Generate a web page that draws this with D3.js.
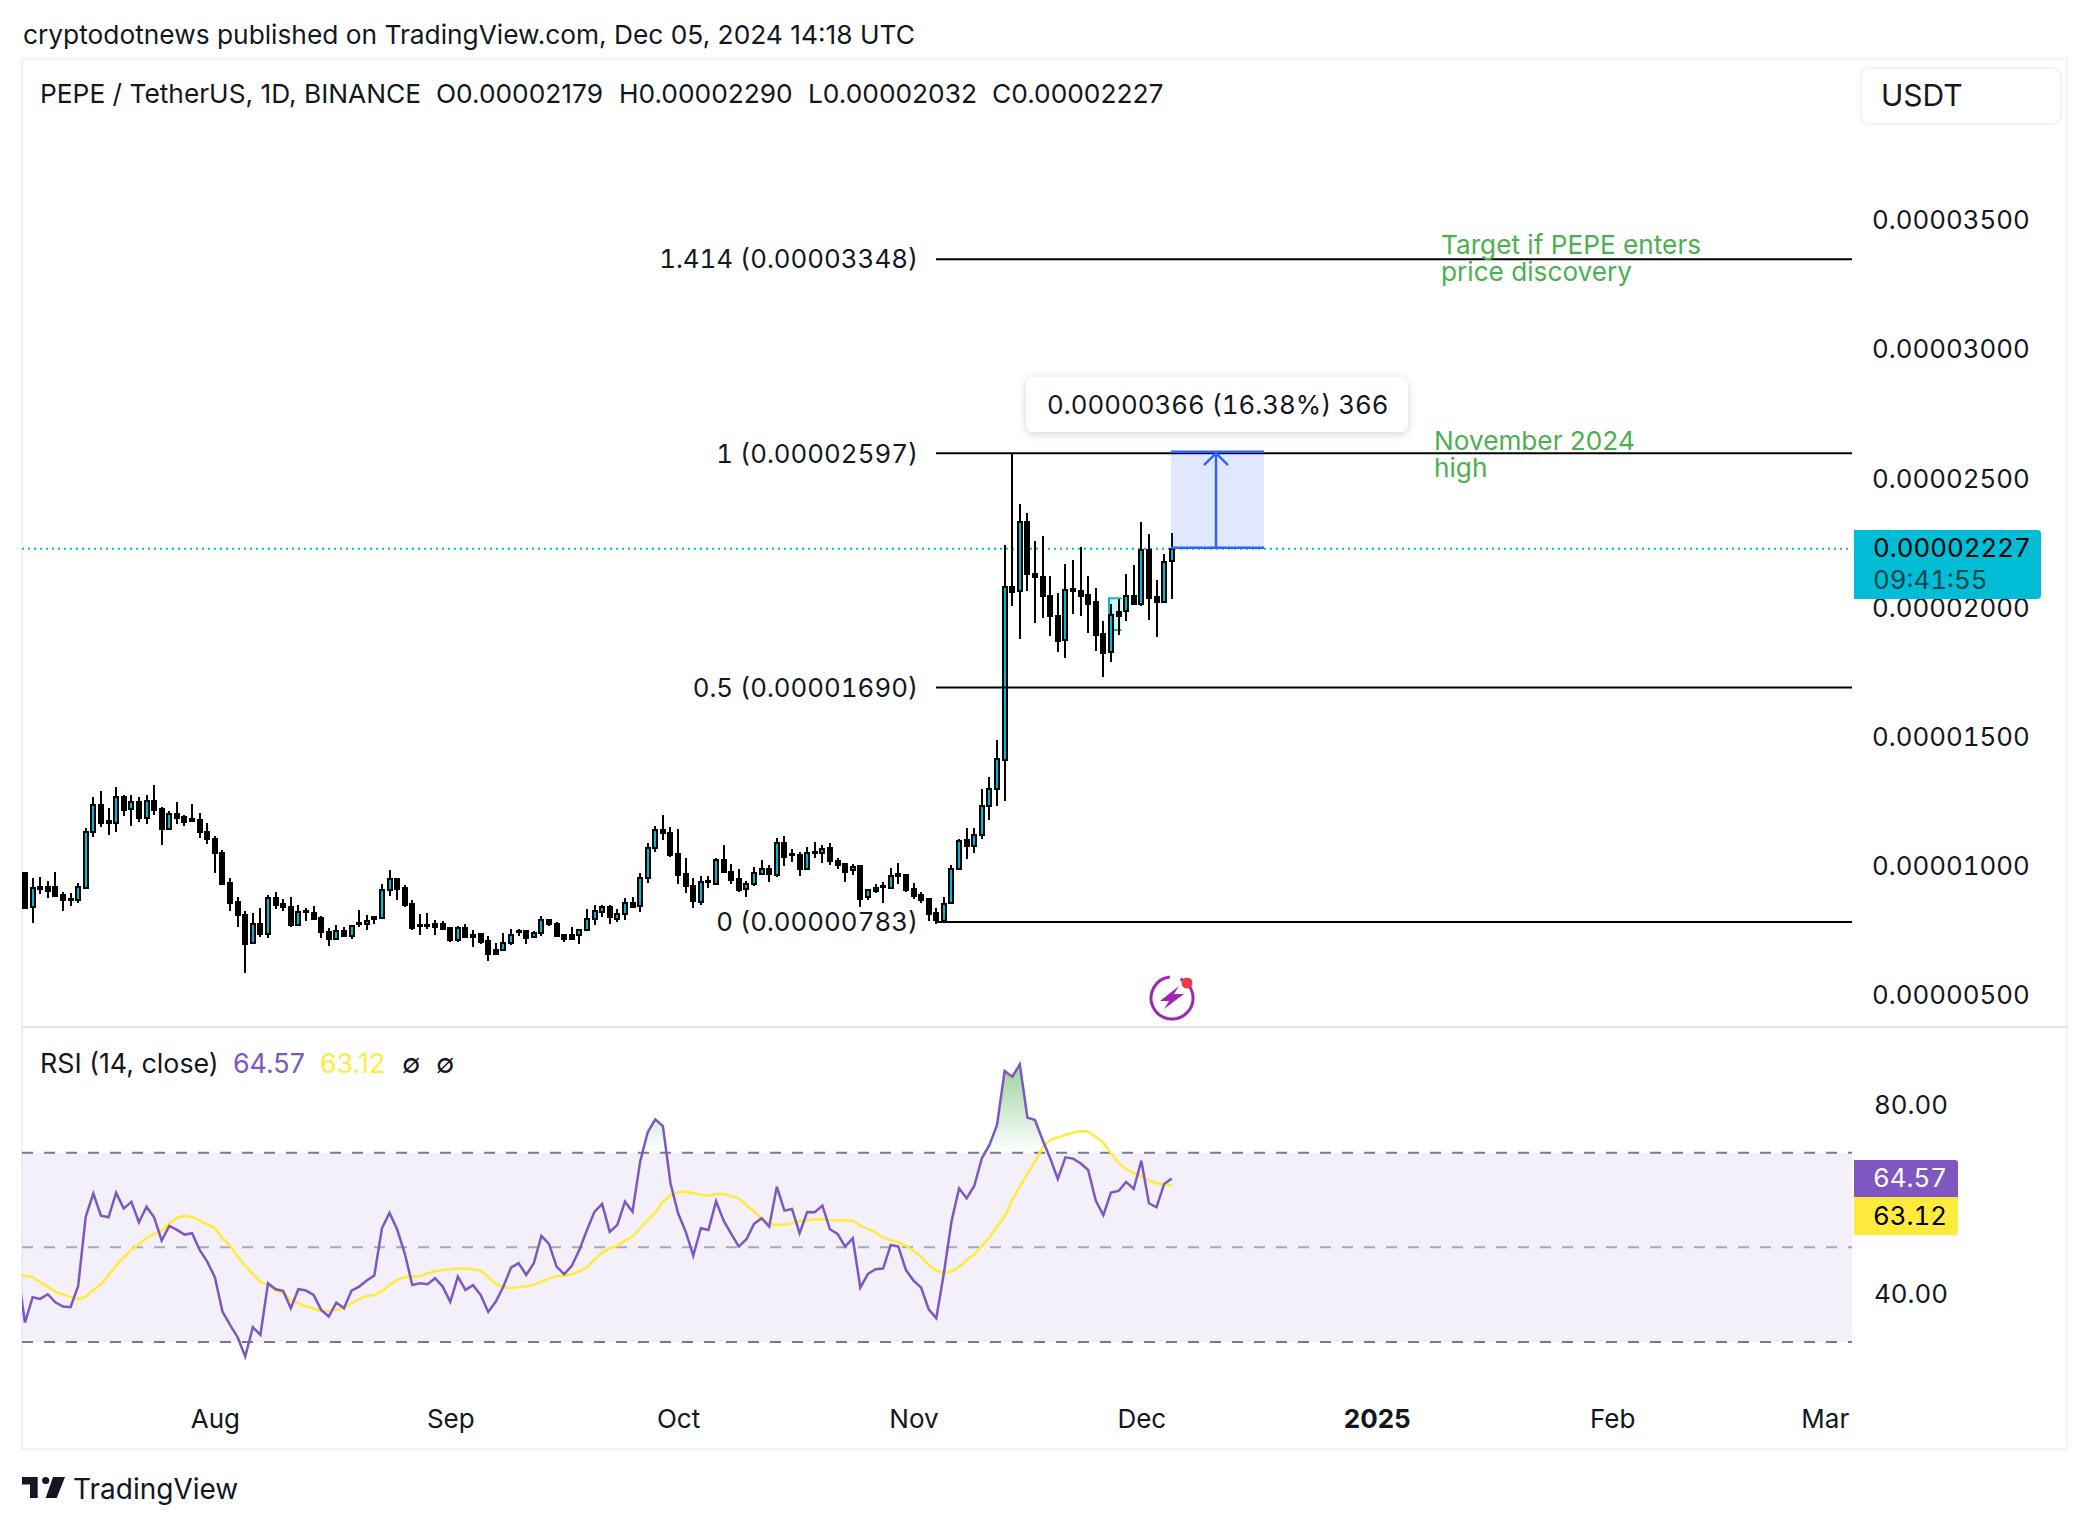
<!DOCTYPE html>
<html>
<head>
<meta charset="utf-8">
<style>
  html, body { margin: 0; padding: 0; background: #fff; }
  svg { display: block; font-family: Inter, 'Noto Sans', sans-serif; }
  text { fill: #131722; }
  .num, .num text { font-variant-numeric: tabular-nums; }
</style>
</head>
<body>
<svg width="2089" height="1527"></svg>
<script src="https://cdn.jsdelivr.net/npm/d3@7"></script>
<script>
(function (d3) {
  'use strict'

  // prices are in 1e-8 USDT
  const firstDay = new Date(Date.UTC(2024, 6, 7))
  const opens = [971, 840, 917, 918, 918, 888, 871, 866, 916, 1129, 1236, 1174, 1165, 1267, 1218, 1246, 1187, 1250, 1219, 1144,
    1200, 1188, 1182, 1176, 1131, 1103, 1050, 933, 859, 809, 700, 774, 735, 875, 853, 840, 770, 826, 817, 797,
    743, 715, 747, 728, 778, 774, 801, 797, 906, 948, 913, 851, 771, 771, 775, 775, 759, 711, 759, 731,
    737, 708, 673, 673, 703, 747, 747, 724, 739, 790, 774, 734, 731, 731, 751, 793, 823, 840, 796, 813,
    855, 844, 952, 1068, 1138, 1126, 1045, 968, 921, 860, 942, 930, 1022, 977, 948, 909, 928, 970, 987, 965,
    1088, 1046, 1041, 987, 1053, 1049, 1068, 1018, 1006, 982, 998, 879, 915, 922, 913, 968, 965, 909, 888, 871,
    817, 786, 856, 987, 1100, 1076, 1119, 1231, 1297, 1409, 2078, 2063, 2330, 2128, 2117, 2043, 1966, 1873, 2070, 2063,
    2047, 2020, 1896, 1827, 1983, 1985, 2043, 2015, 2223, 2039, 2023, 2179]
  const highs = [971, 952, 956, 940, 975, 898, 894, 933, 1146, 1266, 1289, 1223, 1304, 1273, 1273, 1266, 1273, 1312, 1227, 1211,
    1246, 1196, 1238, 1204, 1165, 1115, 1060, 952, 879, 824, 817, 836, 886, 898, 871, 879, 848, 836, 844, 805,
    759, 770, 762, 770, 828, 809, 805, 929, 983, 952, 925, 867, 813, 817, 790, 786, 761, 766, 775, 751,
    739, 728, 700, 739, 757, 756, 747, 747, 805, 793, 782, 737, 762, 755, 832, 848, 848, 848, 832, 875,
    879, 971, 1090, 1153, 1196, 1149, 1142, 1029, 952, 960, 959, 1029, 1080, 1006, 987, 943, 995, 1022, 1005, 1107,
    1115, 1064, 1053, 1072, 1091, 1080, 1088, 1032, 1010, 1006, 1001, 909, 928, 939, 991, 1010, 968, 933, 898, 871,
    836, 879, 1003, 1103, 1146, 1146, 1298, 1343, 1487, 2241, 2597, 2399, 2364, 2256, 2275, 2121, 2055, 2167, 2183, 2233,
    2121, 2074, 1947, 2015, 2032, 2128, 2163, 2330, 2283, 2105, 2206, 2290]
  const lows = [836, 778, 889, 877, 881, 827, 846, 858, 912, 1113, 1152, 1121, 1129, 1191, 1156, 1171, 1160, 1198, 1082, 1140,
    1160, 1156, 1171, 1106, 1086, 974, 924, 827, 765, 587, 699, 726, 719, 831, 827, 765, 769, 788, 792, 719,
    688, 712, 726, 715, 765, 750, 773, 796, 885, 869, 842, 753, 734, 757, 734, 753, 707, 707, 721, 684,
    699, 633, 659, 672, 695, 730, 699, 722, 730, 766, 729, 707, 712, 699, 750, 771, 800, 773, 783, 792,
    840, 823, 935, 1055, 1099, 1036, 931, 893, 835, 850, 916, 928, 975, 931, 899, 881, 921, 969, 939, 955,
    1001, 1014, 962, 986, 1031, 1009, 1005, 987, 939, 966, 842, 866, 893, 858, 912, 928, 900, 873, 855, 788,
    773, 785, 856, 986, 1027, 1048, 1102, 1176, 1230, 1249, 2007, 1879, 2065, 1941, 1961, 1891, 1829, 1806, 1976, 1968,
    1903, 1833, 1729, 1787, 1895, 1949, 2011, 2007, 1953, 1887, 2019, 2032]
  const closes = [836, 913, 912, 904, 884, 866, 866, 917, 1130, 1235, 1167, 1167, 1266, 1217, 1246, 1187, 1250, 1217, 1144, 1200,
    1187, 1171, 1174, 1129, 1102, 1048, 928, 858, 808, 699, 774, 735, 875, 850, 842, 769, 820, 820, 796, 742,
    715, 747, 728, 766, 773, 788, 796, 906, 948, 912, 850, 761, 766, 766, 762, 757, 711, 759, 724, 726,
    707, 660, 660, 702, 734, 742, 721, 739, 790, 773, 730, 717, 716, 751, 793, 824, 840, 801, 814, 855,
    842, 952, 1068, 1138, 1126, 1041, 966, 921, 862, 937, 937, 1022, 978, 947, 906, 929, 971, 987, 968, 1088,
    1036, 1041, 986, 1049, 1048, 1064, 1017, 1002, 978, 997, 873, 906, 904, 917, 962, 962, 907, 885, 869, 815,
    789, 854, 987, 1096, 1075, 1119, 1231, 1297, 1413, 2078, 2061, 2330, 2128, 2116, 2046, 1965, 1872, 2067, 2065, 2046,
    2015, 1895, 1825, 1970, 1968, 2043, 2015, 2224, 2038, 2023, 2175, 2227]

  // rsi series start one day before the first candle, that point sits behind the pane edge
  const rsiValues = [45.2, 34.1, 39.46, 39.11, 40.09, 38.4, 37.49, 37.35, 41.85, 56.5, 61.4, 56.7, 56.35, 61.56, 58.19, 59.6, 55.3, 58.6, 56.35, 51.43,
    54.52, 53.68, 52.7, 52.98, 49.46, 46.99, 43.68, 36.43, 33.62, 31.01, 26.93, 33.12, 31.5, 42.42, 41.15, 40.8, 37.14, 41.15, 40.87, 39.95,
    36.79, 35.38, 38.33, 37.14, 40.87, 41.71, 42.98, 44.04, 54.03, 57.27, 53.82, 48.75, 42.06, 42.42, 42.2, 43.47, 41.71, 38.47, 43.82, 41.01,
    41.99, 39.95, 36.36, 38.54, 41.71, 45.72, 46.64, 44.18, 46.64, 52.41, 50.72, 45.94, 44.32, 46.08, 49.46, 53.68, 57.55, 59.17, 53.26, 54.74,
    59.66, 57.55, 68.11, 74.31, 77.05, 75.64, 63.54, 57.2, 53.33, 48.26, 54.03, 53.68, 59.73, 55.65, 52.84, 50.16, 51.71, 54.95, 56.14, 54.38,
    62.83, 57.76, 58.12, 52.98, 57.48, 57.41, 58.82, 53.82, 52.84, 50.16, 51.92, 41.5, 44.39, 45.37, 45.51, 50.51, 50.16, 45.23, 42.98, 41.5,
    36.92, 35.02, 44.53, 55.44, 62.48, 60.37, 62.97, 68.82, 71.63, 75.86, 87.26, 86.06, 88.67, 77.41, 76.91, 72.69, 68.82, 64.45, 69.03, 68.75,
    67.76, 66.35, 59.88, 56.78, 61.56, 61.92, 63.82, 62.34, 68.32, 59.31, 58.47, 63.4, 64.57]
  const rsiMaValues = [44.67, 43.96, 43.75, 42.63, 41.71, 40.59, 40.09, 39.53, 39.04, 39.6, 41.01, 42.2, 44.18, 46.15, 47.91, 49.46, 50.72, 51.92, 52.84, 53.47,
    55.09, 56.21, 56.71, 56.43, 55.65, 54.88, 54.03, 51.92, 50.37, 48.05, 46.08, 44.39, 42.7, 42.06, 41.01, 40.3, 38.9, 38.19, 37.49, 37.07,
    36.57, 36.57, 36.79, 37.28, 38.19, 39.04, 39.74, 39.95, 40.66, 42.06, 43.12, 43.68, 43.82, 43.96, 44.46, 44.95, 45.23, 45.3, 45.51, 45.51,
    45.37, 45.09, 43.68, 42.27, 41.57, 41.36, 41.64, 41.78, 42.06, 42.77, 43.4, 43.89, 44.04, 44.32, 44.95, 45.8, 47.48, 48.89, 49.81, 50.3,
    51.43, 52.27, 54.03, 55.79, 57.34, 59.66, 60.93, 61.56, 61.78, 61.42, 61.14, 60.93, 61.28, 61.28, 60.86, 60.3, 58.89, 57.62, 56.0, 54.95,
    54.74, 54.81, 55.09, 55.51, 55.72, 55.93, 55.86, 55.72, 55.65, 55.65, 55.65, 54.6, 53.89, 53.19, 51.99, 51.57, 51.08, 50.37, 49.24, 48.05,
    46.29, 45.09, 44.6, 44.95, 45.87, 47.34, 48.54, 50.3, 52.13, 54.38, 56.5, 60.02, 62.83, 65.51, 68.04, 71.14, 72.69, 73.25, 73.74, 74.24,
    74.59, 74.45, 73.39, 72.12, 69.87, 67.9, 66.49, 65.65, 65.08, 64.17, 63.54, 63.33, 63.12]

  const priceTicks = [500, 1000, 1500, 2000, 2500, 3000, 3500]
  const rsiTicks = [40, 80]
  const rsiBands = [70, 50, 30]
  const timeTicks = [[2024, 7, 1, 'Aug'], [2024, 8, 1, 'Sep'], [2024, 9, 1, 'Oct'], [2024, 10, 1, 'Nov'],
    [2024, 11, 1, 'Dec'], [2025, 0, 1, '2025'], [2025, 1, 1, 'Feb'], [2025, 2, 1, 'Mar']]
  const fibPrices = [3348, 2597, 1690, 783]
  const fibLabels = ['1.414 (0.00003348)', '1 (0.00002597)', '0.5 (0.00001690)', '0 (0.00000783)']
  const lastPrice = 2227
  const measureFrom = 2231
  const measureTo = 2597

  const green = '#4caf50'
  const teal = '#00bcd4'
  const purple = '#7e57c2'
  const yellow = '#ffeb3b'
  const blue = '#2962ff'
  const frame = { left: 22, right: 2067, top: 59, bottom: 1449 }
  const plotRight = 1852
  const divider = 1027
  const fontSize = 25.85

  const svg = d3.select('svg')
  const defs = svg.append('defs')

  const day = i => d3.utcDay.offset(firstDay, i)
  const x = d3.scaleUtc().domain([firstDay, day(151)]).range([25, 1171.7])
  const y = d3.scaleLinear().domain([500, 3500]).range([995, 219.9])
  const rsiY = d3.scaleLinear().domain([30, 70]).range([1342, 1152.7])

  const mainClip = defs.append('clipPath').attr('id', 'mainClip')
  mainClip.append('rect').attr('x', frame.left).attr('y', frame.top).
    attr('width', plotRight - frame.left).attr('height', divider - frame.top)
  const rsiClip = defs.append('clipPath').attr('id', 'rsiClip')
  rsiClip.append('rect').attr('x', frame.left).attr('y', divider).
    attr('width', plotRight - frame.left).attr('height', frame.bottom - divider)
  const aboveClip = defs.append('clipPath').attr('id', 'aboveClip')
  aboveClip.append('rect').attr('x', frame.left).attr('y', divider).
    attr('width', plotRight - frame.left).attr('height', rsiY(70) - divider)

  const grad = defs.append('linearGradient').attr('id', 'overbought').
    attr('gradientUnits', 'userSpaceOnUse').
    attr('x1', 0).attr('x2', 0).attr('y1', rsiY(90)).attr('y2', rsiY(70))
  grad.append('stop').attr('offset', 0).attr('stop-color', green).attr('stop-opacity', 0.6)
  grad.append('stop').attr('offset', 1).attr('stop-color', green).attr('stop-opacity', 0)

  const shadow = defs.append('filter').attr('id', 'shadow').
    attr('x', '-10%').attr('y', '-30%').attr('width', '120%').attr('height', '170%')
  shadow.append('feDropShadow').attr('dx', 0).attr('dy', 2).attr('stdDeviation', 4).
    attr('flood-color', '#000').attr('flood-opacity', 0.18)

  // header and frame
  svg.append('text').attr('x', 23).attr('y', 44).attr('font-size', 26.3).
    text('cryptodotnews published on TradingView.com, Dec 05, 2024 14:18 UTC')
  svg.append('rect').attr('x', frame.left).attr('y', frame.top).
    attr('width', frame.right - frame.left).attr('height', frame.bottom - frame.top).
    attr('fill', 'none').attr('stroke', '#f0f3fa').attr('stroke-width', 2)
  svg.append('line').attr('x1', frame.left).attr('x2', frame.right).
    attr('y1', divider).attr('y2', divider).attr('stroke', '#e0e3eb').attr('stroke-width', 2)

  // candles
  const main = svg.append('g').attr('clip-path', 'url(#mainClip)')

  main.append('path').
    attr('d', d3.line()([
      [x(day(144)) + 3, y(2036)], [x(day(143)) - 2, y(2036)],
      [x(day(143)) - 2, y(1913)], [x(day(144)) + 3, y(1913)]])).
    attr('fill', teal).attr('fill-opacity', 0.18).attr('stroke', teal).attr('stroke-width', 2)

  main.append('line').attr('x1', frame.left).attr('x2', plotRight).
    attr('y1', y(lastPrice)).attr('y2', y(lastPrice)).
    attr('stroke', teal).attr('stroke-width', 2).attr('stroke-dasharray', '2 4')

  const candles = main.append('g').attr('shape-rendering', 'crispEdges').
    selectAll('g').data(opens).enter().append('g').
    attr('transform', (d, i) => `translate(${Math.round(x(day(i)))},0)`)
  candles.append('line').
    attr('y1', (d, i) => y(highs[i])).attr('y2', (d, i) => y(lows[i])).
    attr('stroke', '#000').attr('stroke-width', 2)
  candles.append('rect').
    attr('x', -2).attr('width', 4).
    attr('y', (d, i) => y(Math.max(opens[i], closes[i]))).
    attr('height', (d, i) => Math.abs(y(opens[i]) - y(closes[i]))).
    attr('fill', (d, i) => closes[i] >= opens[i] ? teal : '#000').
    attr('stroke', '#000').attr('stroke-width', 2)

  // fib levels
  const fibs = svg.append('g').attr('class', 'num')
  fibs.selectAll('line').data(fibPrices).enter().append('line').
    attr('x1', 936).attr('x2', plotRight).
    attr('y1', d => y(d)).attr('y2', d => y(d)).
    attr('stroke', '#000').attr('stroke-width', 2)
  fibs.selectAll('text').data(fibPrices).enter().append('text').
    attr('x', 918).attr('y', d => y(d)).attr('dy', '0.36em').
    attr('text-anchor', 'end').attr('font-size', fontSize).
    text((d, i) => fibLabels[i])

  // price range tool
  const rx0 = 1171
  const rx1 = 1264
  const rxMid = 1216
  svg.append('rect').attr('x', rx0).attr('width', rx1 - rx0).
    attr('y', y(measureTo)).attr('height', y(measureFrom) - y(measureTo)).
    attr('fill', blue).attr('fill-opacity', 0.15)
  const range = svg.append('g').attr('stroke', blue).attr('stroke-width', 2.4).attr('fill', 'none')
  range.append('line').attr('x1', rx0).attr('x2', rx1).attr('y1', y(measureTo) - 1.5).attr('y2', y(measureTo) - 1.5)
  range.append('line').attr('x1', rx0).attr('x2', rx1).attr('y1', y(measureFrom)).attr('y2', y(measureFrom))
  range.append('line').attr('x1', rxMid).attr('x2', rxMid).attr('y1', y(measureFrom)).attr('y2', y(measureTo))
  range.append('path').attr('d', d3.line()([
    [rxMid - 12, y(measureTo) + 12], [rxMid, y(measureTo)], [rxMid + 12, y(measureTo) + 12]]))
  svg.append('rect').attr('x', 1026).attr('y', 377).attr('width', 382).attr('height', 55).
    attr('rx', 8).attr('fill', '#fff').attr('filter', 'url(#shadow)')
  svg.append('text').attr('class', 'num').attr('x', 1047).attr('y', 405).attr('dy', '0.36em').attr('font-size', fontSize).
    text('0.00000366 (16.38%) 366')

  // green notes
  const notes = [[1441, 245, 'Target if PEPE enters'], [1441, 272, 'price discovery'],
    [1434, 441, 'November 2024'], [1434, 468, 'high']]
  svg.append('g').selectAll('text').data(notes).enter().append('text').
    attr('x', d => d[0]).attr('y', d => d[1]).attr('dy', '0.36em').
    attr('font-size', 26.2).style('fill', green).text(d => d[2])

  // legend line
  const legendParts = [[40, 'PEPE / TetherUS, 1D, BINANCE'], [436, 'O0.00002179'], [619, 'H0.00002290'],
    [808, 'L0.00002032'], [992, 'C0.00002227']]
  svg.append('g').selectAll('text').data(legendParts).enter().append('text').
    attr('x', d => d[0]).attr('y', 94).attr('dy', '0.36em').attr('font-size', 26.3).text(d => d[1])

  svg.append('rect').attr('x', 1861).attr('y', 68).attr('width', 200).attr('height', 56).attr('rx', 8).
    attr('fill', '#fff').attr('stroke', '#f0f3fa').attr('stroke-width', 2)
  svg.append('text').attr('x', 1881).attr('y', 95).attr('dy', '0.36em').attr('font-size', 30).text('USDT')

  // price axis
  const priceAxis = d3.axisRight(y).tickValues(priceTicks).tickSize(0).tickPadding(0).
    tickFormat(d => (d * 1e-8).toFixed(8))
  const priceG = svg.append('g').attr('class', 'num').attr('transform', 'translate(1872,0.5)').call(priceAxis)
  priceG.select('.domain').remove()
  priceG.selectAll('text').attr('font-size', fontSize).attr('font-family', 'Inter').style('fill', '#131722')

  // last price tag
  svg.append('path').attr('fill', teal).
    attr('d', 'M1854,530H2037a4,4 0 0 1 4,4V595a4,4 0 0 1 -4,4H1854Z')
  svg.append('text').attr('class', 'num').attr('x', 1873).attr('y', 548).attr('dy', '0.36em').attr('font-size', fontSize).
    style('fill', '#000').text((lastPrice * 1e-8).toFixed(8))
  svg.append('text').attr('class', 'num').attr('x', 1873).attr('y', 580).attr('dy', '0.36em').attr('font-size', fontSize).
    style('fill', '#00454f').text('09:41:55')

  // rsi pane
  const rsiPane = svg.append('g').attr('clip-path', 'url(#rsiClip)')
  rsiPane.append('rect').attr('x', frame.left).attr('width', plotRight - frame.left).
    attr('y', rsiY(70)).attr('height', rsiY(30) - rsiY(70)).
    attr('fill', purple).attr('fill-opacity', 0.09)
  rsiPane.selectAll('line.band').data(rsiBands).enter().append('line').
    attr('x1', frame.left).attr('x2', plotRight).
    attr('y1', d => rsiY(d)).attr('y2', d => rsiY(d)).
    attr('stroke', '#787b86').attr('stroke-width', 2).attr('stroke-dasharray', '11 11').
    attr('stroke-opacity', d => d === 50 ? 0.6 : 1)

  const rsiX = (d, i) => x(day(i - 1))
  rsiPane.append('path').datum(rsiValues).
    attr('clip-path', 'url(#aboveClip)').
    attr('fill', 'url(#overbought)').
    attr('d', d3.area().x(rsiX).y0(rsiY(70)).y1(d => rsiY(d)))
  rsiPane.append('path').datum(rsiMaValues).
    attr('fill', 'none').attr('stroke', yellow).attr('stroke-width', 2.5).
    attr('d', d3.line().x(rsiX).y(d => rsiY(d)))
  rsiPane.append('path').datum(rsiValues).
    attr('fill', 'none').attr('stroke', purple).attr('stroke-width', 2.5).
    attr('d', d3.line().x(rsiX).y(d => rsiY(d)))

  const rsiAxis = d3.axisRight(rsiY).tickValues(rsiTicks).tickSize(0).tickPadding(0).
    tickFormat(d => d.toFixed(2))
  const rsiAxisG = svg.append('g').attr('class', 'num').attr('transform', 'translate(1856,0)').call(rsiAxis)
  rsiAxisG.select('.domain').remove()
  rsiAxisG.selectAll('text').attr('font-size', fontSize).attr('font-family', 'Inter').style('fill', '#131722').
    attr('x', 18)

  svg.append('path').attr('fill', purple).
    attr('d', 'M1854,1160H1955a3,3 0 0 1 3,3V1197H1854Z')
  svg.append('path').attr('fill', yellow).
    attr('d', 'M1854,1197H1958V1232a3,3 0 0 1 -3,3H1854Z')
  svg.append('text').attr('class', 'num').attr('x', 1873).attr('y', 1178).attr('dy', '0.36em').attr('font-size', fontSize).
    style('fill', '#fff').text(rsiValues[rsiValues.length - 1].toFixed(2))
  svg.append('text').attr('class', 'num').attr('x', 1873).attr('y', 1215.5).attr('dy', '0.36em').attr('font-size', fontSize).
    style('fill', '#000').text(rsiMaValues[rsiMaValues.length - 1].toFixed(2))

  const rsiLegend = [[40, 'RSI (14, close)', '#131722'], [233, '64.57', purple], [320, '63.12', yellow],
    [402, '∅', '#131722'], [436, '∅', '#131722']]
  svg.append('g').selectAll('text').data(rsiLegend).enter().append('text').
    attr('x', d => d[0]).attr('y', 1063.5).attr('dy', '0.36em').attr('font-size', 26.8).
    style('fill', d => d[2]).text(d => d[1])

  // time axis
  const timeAxis = d3.axisBottom(x).
    tickValues(timeTicks.map(d => new Date(Date.UTC(d[0], d[1], d[2])))).
    tickSize(0).tickPadding(0).
    tickFormat((d, i) => timeTicks[i][3])
  const timeG = svg.append('g').attr('transform', 'translate(0,1410)').call(timeAxis)
  timeG.select('.domain').remove()
  timeG.selectAll('text').attr('font-size', 26).attr('font-family', 'Inter').style('fill', '#131722').
    attr('font-weight', (d, i) => timeTicks[i][3] === '2025' ? 700 : 400)

  // bolt badge
  const badge = svg.append('g').attr('transform', 'translate(1172,998)')
  badge.append('path').attr('fill', 'none').attr('stroke', '#9c27b0').attr('stroke-width', 3).
    attr('d', d3.arc().innerRadius(21).outerRadius(21).startAngle(0.42).endAngle(Math.PI * 2 - 0.1)())
  badge.append('path').attr('fill', '#9c27b0').
    attr('d', 'M7,-12L-12,3H-3L-8,11L12,-4H2Z')
  badge.append('circle').attr('cx', 15).attr('cy', -15).attr('r', 5.5).attr('fill', '#f23645')

  // logo
  const logo = svg.append('g').attr('fill', '#131722')
  logo.append('path').attr('d', 'M22,1477H37.7V1498H30V1484.5H22Z')
  logo.append('circle').attr('cx', 45.7).attr('cy', 1480.5).attr('r', 3.6)
  logo.append('path').attr('d', 'M53,1477H65L56.7,1498H45.7Z')
  svg.append('text').attr('x', 73).attr('y', 1499).attr('font-size', 28).text('TradingView')
}(d3))
</script>
</body>
</html>
